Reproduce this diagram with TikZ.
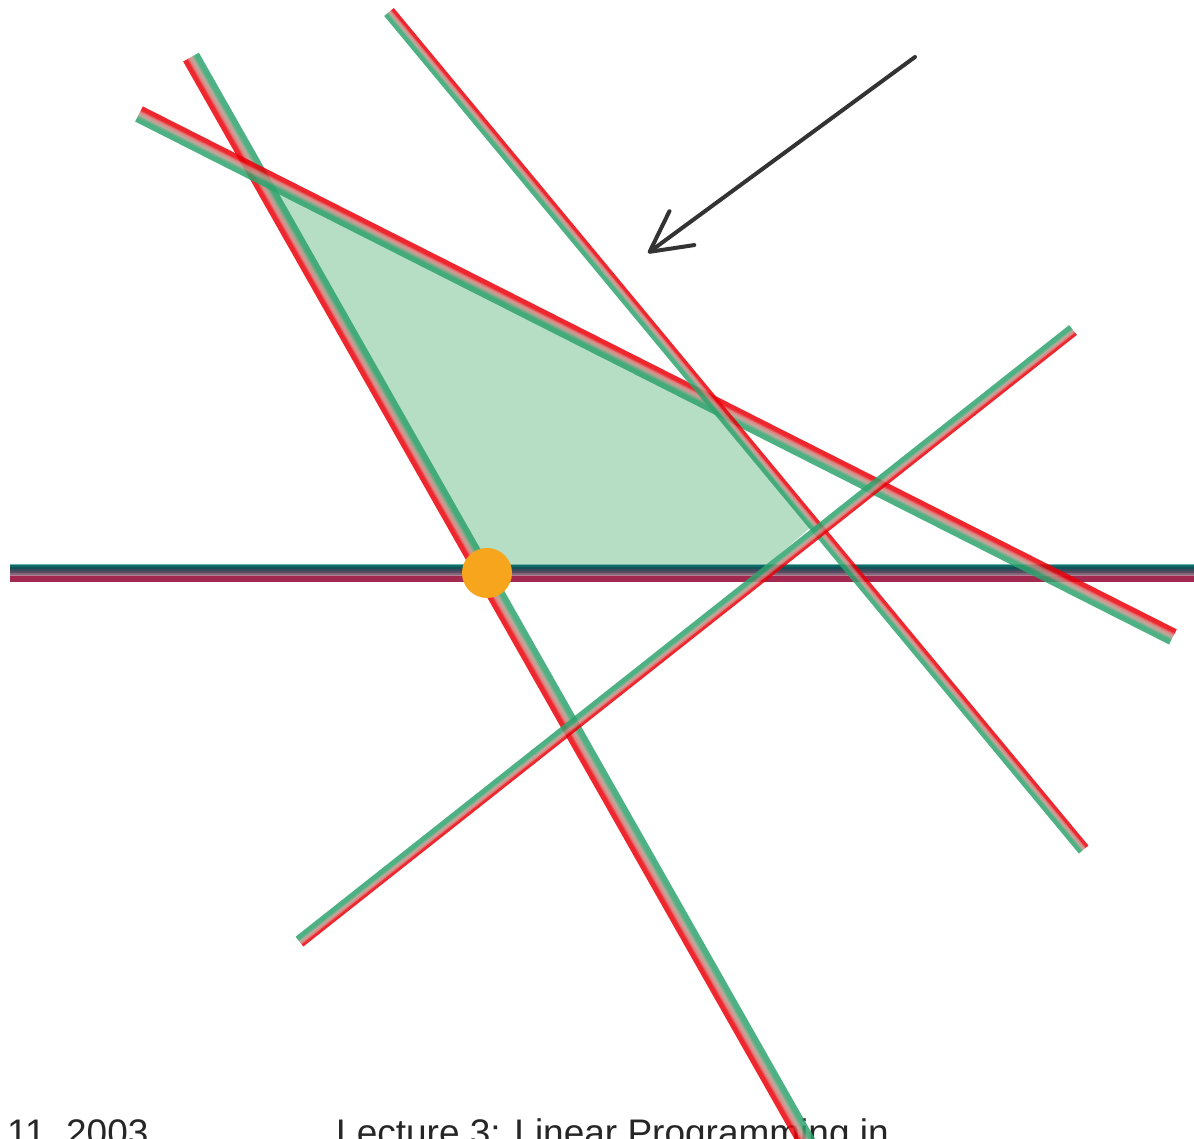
\documentclass[tikz,border=0pt]{standalone}
\usepackage{fontspec}
\setmainfont{Liberation Sans}
\usetikzlibrary{arrows.meta, positioning, calc}

\definecolor{hpgreen}{HTML}{2FA36E}
\definecolor{hpmid}{HTML}{B49A8A}
\definecolor{hppink}{HTML}{D9706E}
\definecolor{hpred}{HTML}{EB0008}
\definecolor{feasible}{HTML}{B6DEC4}
\definecolor{dotorange}{HTML}{F7A51C}
\definecolor{arrowgray}{HTML}{333333}
\definecolor{stA}{HTML}{6FB3AE}
\definecolor{stB}{HTML}{0F6A66}
\definecolor{stC}{HTML}{11535A}
\definecolor{stD}{HTML}{3A4A5A}
\definecolor{stE}{HTML}{574C62}
\definecolor{stF}{HTML}{86657A}
\definecolor{stG}{HTML}{B27F94}
\definecolor{stH}{HTML}{A2284F}

% red side = outside, green side = feasible side
\pgfdeclareverticalshading{halfband}{100bp}{color(0bp)=(hpgreen); color(25bp)=(hpgreen);
  color(39bp)=(hpgreen); color(49bp)=(hpmid); color(57bp)=(hppink);
  color(64bp)=(hpred); color(75bp)=(hpred); color(100bp)=(hpred)}

% constraint line from (#1,#2) to (#3,#4), band width #5, red on the left
\newcommand{\halfplane}[5]{%
  \pgfmathsetmacro{\hpang}{atan2((#4)-(#2),(#3)-(#1))}%
  \pgfmathsetmacro{\hplen}{veclen((#3)-(#1),(#4)-(#2))}%
  \begin{scope}[transform canvas={shift={(#1,#2)},rotate=\hpang}]
    \shade[shading=halfband, fill opacity=.85] (0,-#5/2) rectangle (\hplen,#5/2);
  \end{scope}}

\begin{document}
\begin{tikzpicture}[
        x=1pt, y=1pt,
        footer/.style={font=\fontsize{37}{42}\selectfont, text=black!85, inner sep=0pt, anchor=base west},
        objective/.style={draw=arrowgray, line width=4pt, line cap=round,
            -{Straight Barb[length=40pt, width=42pt, round]}},
        optimum/.style={circle, fill=dotorange, minimum size=50pt, inner sep=0pt}
    ]
        \useasboundingbox (0,0) rectangle (1194,1138);

        % footer of the slide
        \node[footer] (date) at (7,-7) {11, 2003};
        \node[footer] (title) at (336,-7) {Lecture 3: Linear Programming in};

        % feasible region
        \fill[feasible] (257,964) -- (715,733) -- (811,611) -- (767,573) -- (479,573) -- cycle;

        % degenerate horizontal constraints
        \foreach \yy/\cc/\ww in {573.2/stA/1.6, 571.5/stB/2, 569.5/stC/2, 567.7/stD/1.6,
                                 566/stE/1.8, 564.2/stF/1.8, 562.5/stG/1.6, 558.7/stH/6}
            \draw[\cc, line width=\ww pt] (10,\yy) -- (1194,\yy);

        % constraints
        \halfplane{811}{-12}{191}{1081}{18}
        \halfplane{139}{1024}{1173}{501}{17}
        \halfplane{389}{1126}{1084}{288}{12.5}
        \halfplane{1073}{808}{299}{196}{12.5}

        % objective direction
        \coordinate (dirtail) at (915,1081);
        \coordinate (dirtip) at (648,885);
        \draw[objective] (dirtail) -- (dirtip);

        % optimal vertex
        \node[optimum] (opt) at (487,565) {};

    \end{tikzpicture}
\end{document}
